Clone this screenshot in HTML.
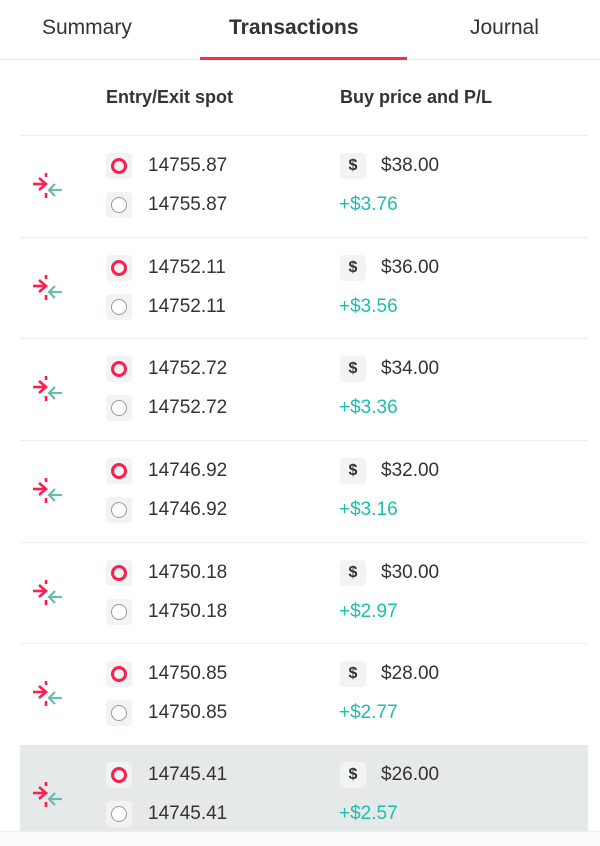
<!DOCTYPE html>
<html><head><meta charset="utf-8"><style>
*{margin:0;padding:0;box-sizing:border-box}
body{width:600px;height:846px;overflow:hidden;background:#fff;font-family:"Liberation Sans",sans-serif;color:#333;position:relative}
.abs{position:absolute}
.tab{position:absolute;top:16px;font-size:21px;color:#333}
.row{position:absolute;left:20px;width:568px;height:102px;border-top:1px solid #eee}
.row.hl{background:#e6e9e9;border-top:none}
.sq{position:absolute;width:26px;height:26px;background:#f2f3f3;border-radius:4px}
.num{position:absolute;font-size:19px;color:#333}
.pl{position:absolute;font-size:19px;color:#1bbfae}
.ds{position:absolute;width:26px;height:26px;background:#f2f3f3;border-radius:4px;font-weight:bold;font-size:16px;text-align:center;line-height:26px;color:#333}
</style></head><body>
<div class="tab" style="left:42px">Summary</div>
<div class="tab" style="left:229px;font-weight:bold">Transactions</div>
<div class="tab" style="left:470px">Journal</div>
<div class="abs" style="left:0;top:59px;width:600px;height:1px;background:#e8e8e8"></div>
<div class="abs" style="left:200px;top:57px;width:207px;height:3px;background:#ff2a44"></div>
<div class="abs" style="left:106px;top:87px;font-size:18px;font-weight:bold">Entry/Exit spot</div>
<div class="abs" style="left:340px;top:87px;font-size:18px;font-weight:bold">Buy price and P/L</div>
<div id="list"></div>
<div class="abs" style="left:0;top:831px;width:600px;height:15px;background:#fcfcfc;border-top:1px solid #eee"></div>
<script>
const spots=["14755.87","14752.11","14752.72","14746.92","14750.18","14750.85","14745.41"];
const prices=["$38.00","$36.00","$34.00","$32.00","$30.00","$28.00","$26.00"];
const pls=["+$3.76","+$3.56","+$3.36","+$3.16","+$2.97","+$2.77","+$2.57"];
const list=document.getElementById('list');
const tops=[135,237,338,440,542,643,745];
spots.forEach((s,i)=>{
  const r=document.createElement('div');
  r.className='row'+(i==6?' hl':'');
  
  
  r.style.top=tops[i]+'px';
  if(i==6)r.style.height='86px';
  r.innerHTML=`
  <svg style="position:absolute;left:12px;top:36px" width="32" height="30" viewBox="0 0 32 30">
   <g stroke="#ff1d4f" stroke-width="2.6" fill="none"><line x1="1" y1="12" x2="14" y2="12"/><polyline points="7,6 14,12 7,18"/><line x1="14" y1="1" x2="14" y2="5"/><line x1="14" y1="21" x2="14" y2="26"/></g>
   <g stroke="#6bbab0" stroke-width="2.2" fill="none"><line x1="30" y1="18" x2="17" y2="18"/><polyline points="23,12 17,18 23,24"/></g>
  </svg>
  <div class="sq" style="left:86px;top:17px"><div style="position:absolute;left:5px;top:5px;width:16px;height:16px;border:3px solid #ff1d4f;border-radius:50%"></div></div>
  <div class="sq" style="left:86px;top:56px"><div style="position:absolute;left:5px;top:5px;width:16px;height:16px;border:1.5px solid #999;border-radius:50%;background:#fff"></div></div>
  <div class="num" style="left:128px;top:19px">${s}</div>
  <div class="num" style="left:128px;top:58px">${s}</div>
  <div class="ds" style="left:320px;top:17px">$</div>
  <div class="num" style="left:361px;top:19px">${prices[i]}</div>
  <div class="pl" style="left:319px;top:58px">${pls[i]}</div>`;
  list.appendChild(r);
});
</script>
</body></html>
